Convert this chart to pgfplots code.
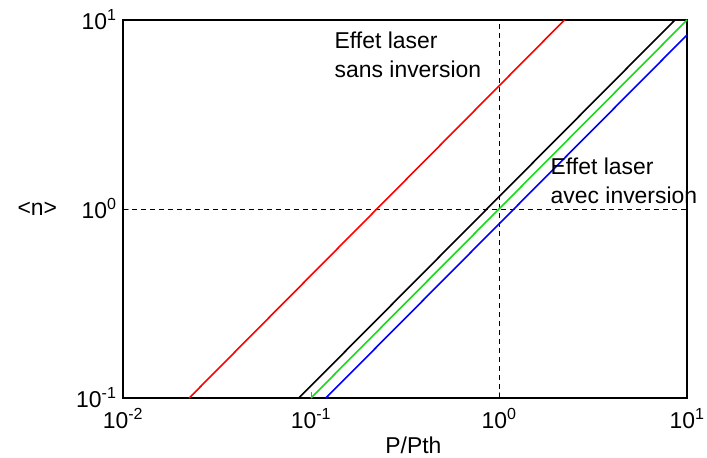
\documentclass[border=0pt]{standalone}
\usepackage{fontspec}
\setmainfont{Liberation Sans}
\usepackage{pgfplots}
\pgfplotsset{compat=1.18}
\definecolor{mygreen}{rgb}{0.1,0.85,0.1}
\begin{document}
\begin{tikzpicture}
\path[use as bounding box] (0,0) rectangle (707bp,458bp);
\begin{axis}[
  at={(123bp,60bp)}, anchor=south west,
  scale only axis, width=564bp, height=378bp,
  clip=false,
  xmode=log, ymode=log,
  xmin=0.01, xmax=10, ymin=0.1, ymax=10,
  xtick={0.01,0.1,1,10},
  xticklabels={10\textsuperscript{-2},10\textsuperscript{-1},10\textsuperscript{0},10\textsuperscript{1}},
  ytick={0.1,1,10},
  yticklabels={10\textsuperscript{-1},10\textsuperscript{0},10\textsuperscript{1}},
  minor tick length=0pt,
  major tick length=6bp,
  tick align=inside,
  xtick pos=bottom, ytick pos=left,
  axis line style={line width=1.2bp},
  ticklabel style={font=\fontsize{23}{26}\selectfont},
  xticklabel style={yshift=-7bp},
  yticklabel style={xshift=-3bp},
  xlabel={P/Pth},
  ylabel={<n>},
  label style={font=\fontsize{23}{26}\selectfont},
  ylabel style={rotate=-90, at={(axis description cs:-0.152,0.5)}, anchor=center},
  xlabel style={at={(axis description cs:0.515,-0.125)}, anchor=center},
]
\addplot[black, line width=0.9bp, dash pattern=on 5bp off 4bp] coordinates {(1,0.1) (1,10)};
\addplot[black, line width=0.9bp, dash pattern=on 5bp off 4bp] coordinates {(0.01,1) (10,1)};
\addplot[red, line width=1.6bp] coordinates {(0.0225,0.1) (2.23,10)};
\addplot[black, line width=1.6bp] coordinates {(0.0862,0.1) (8.62,10)};
\addplot[mygreen, line width=1.6bp] coordinates {(0.1,0.1) (10,10)};
\addplot[blue, line width=1.6bp] coordinates {(0.12,0.1) (10,8.33)};
\node[anchor=north west, align=left, inner sep=0pt, font=\fontsize{23}{29}\selectfont] at (axis description cs:0.375,0.97) {Effet laser\\sans inversion};
\node[anchor=north west, align=left, inner sep=0pt, font=\fontsize{23}{29}\selectfont] at (axis description cs:0.758,0.635) {Effet laser\\avec inversion};
\end{axis}
\end{tikzpicture}
\end{document}
